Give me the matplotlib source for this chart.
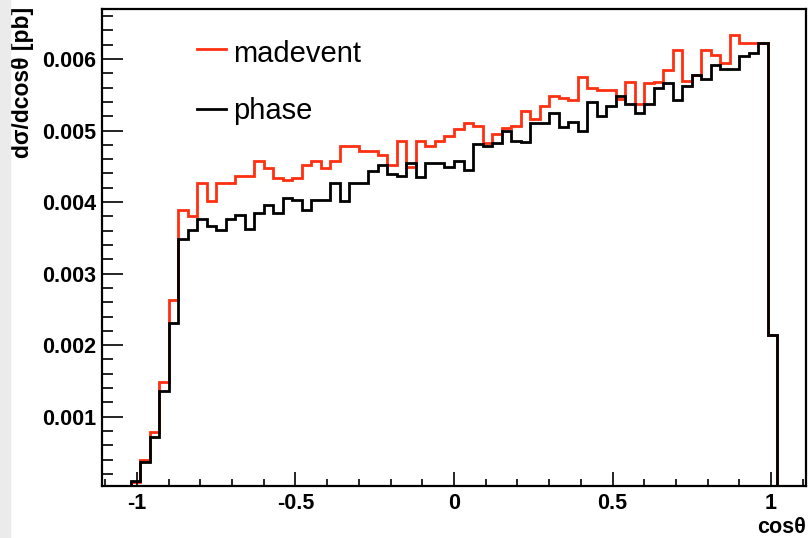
"""
cos(theta) distribution: madevent vs phase, ROOT-style step histograms.
"""
import numpy as np
import matplotlib
matplotlib.use("Agg")
import matplotlib.pyplot as plt
from matplotlib.patches import Rectangle
from matplotlib.ticker import MultipleLocator, FixedLocator

# 74 bins of width 0.03 on [-1.11, 1.11]
bin_lo, bin_hi, n_bins = -1.11, 1.11, 74

madevent = [
    0, 0, 0, 0.00008, 0.00039, 0.00078, 0.00149, 0.00263, 0.00389, 0.00380,
    0.00427, 0.00401, 0.00427, 0.00427, 0.00437, 0.00437, 0.00458, 0.00447, 0.00433, 0.00431,
    0.00433, 0.00452, 0.00458, 0.00447, 0.00458, 0.00479, 0.00478, 0.00471, 0.00471, 0.00466,
    0.00452, 0.00485, 0.00449, 0.00485, 0.00479, 0.00486, 0.00492, 0.00502, 0.00510, 0.00506,
    0.00483, 0.00495, 0.00504, 0.00506, 0.00527, 0.00516, 0.00534, 0.00548, 0.00545, 0.00543,
    0.00575, 0.00559, 0.00557, 0.00557, 0.00544, 0.00568, 0.00537, 0.00566, 0.00568, 0.00585,
    0.00613, 0.00570, 0.00578, 0.00613, 0.00606, 0.00594, 0.00633, 0.00622, 0.00622, 0.00622,
    0.00214, 0, 0, 0,
]
phase = [
    0, 0, 0, 0.00010, 0.00036, 0.00071, 0.00136, 0.00231, 0.00349, 0.00361,
    0.00377, 0.00367, 0.00361, 0.00377, 0.00382, 0.00362, 0.00385, 0.00396, 0.00385, 0.00406,
    0.00403, 0.00389, 0.00403, 0.00403, 0.00427, 0.00402, 0.00427, 0.00427, 0.00444, 0.00452,
    0.00439, 0.00437, 0.00455, 0.00435, 0.00455, 0.00455, 0.00449, 0.00458, 0.00445, 0.00481,
    0.00479, 0.00483, 0.00499, 0.00485, 0.00484, 0.00510, 0.00510, 0.00524, 0.00505, 0.00512,
    0.00500, 0.00540, 0.00520, 0.00535, 0.00549, 0.00537, 0.00524, 0.00537, 0.00559, 0.00567,
    0.00543, 0.00563, 0.00578, 0.00572, 0.00592, 0.00586, 0.00586, 0.00604, 0.00608, 0.00622,
    0.00214, 0, 0, 0,
]

x_ticks = [-1, -0.5, 0, 0.5, 1]
x_ticklabels = ["-1", "-0.5", "0", "0.5", "1"]
y_ticks = [0.001, 0.002, 0.003, 0.004, 0.005, 0.006]
y_ticklabels = ["0.001", "0.002", "0.003", "0.004", "0.005", "0.006"]

RED = "#ff3010"
plt.rcParams["font.family"] = ["Liberation Sans", "DejaVu Sans"]

edges = np.linspace(bin_lo, bin_hi, n_bins + 1)

fig = plt.figure(figsize=(8.08, 5.38), dpi=100)
fig.patches.append(Rectangle((0, 0), 10 / 808, 1, transform=fig.transFigure,
                             color="#ebebeb", zorder=0))
ax = fig.add_axes([102 / 808, 1 - 486 / 538, 704 / 808, 477 / 538])

ax.stairs(madevent, edges, color=RED, lw=2)
ax.stairs(phase, edges, color="black", lw=2)

ax.set_xlim(bin_lo, bin_hi)
ax.set_ylim(0.00003, 0.0067)

ax.xaxis.set_major_locator(FixedLocator(x_ticks))
ax.set_xticklabels(x_ticklabels)
ax.xaxis.set_minor_locator(MultipleLocator(0.1))
ax.yaxis.set_major_locator(FixedLocator(y_ticks))
ax.set_yticklabels(y_ticklabels)
ax.yaxis.set_minor_locator(MultipleLocator(0.0002))

ax.tick_params(which="both", direction="in", top=False, right=False,
               labelsize=15.5, width=1.2)
ax.tick_params(axis="x", which="major", length=10, pad=5)
ax.tick_params(axis="x", which="minor", length=5)
ax.tick_params(axis="y", which="major", length=15, pad=4)
ax.tick_params(axis="y", which="minor", length=8)
for lab in ax.get_xticklabels() + ax.get_yticklabels():
    lab.set_fontweight("bold")
for sp in ax.spines.values():
    sp.set_linewidth(1.6)

ax.set_xlabel("cos\u03b8", fontsize=15.5, fontweight="bold", loc="right")
ax.xaxis.set_label_coords(1.0, -0.066)
ax.set_ylabel("d\u03c3/dcos\u03b8 [pb]", fontsize=16.5, fontweight="bold", loc="top")
ax.yaxis.set_label_coords(-0.097, 1.005)

# hand-placed legend, ROOT TLegend look
for label, color, y_line, y_text in [("madevent", RED, 0.9155, 0.889),
                                      ("phase", "black", 0.791, 0.769)]:
    ax.plot([0.135, 0.176], [y_line, y_line], color=color, lw=2,
            transform=ax.transAxes)
    ax.text(0.186, y_text, label, fontsize=21, va="baseline",
            transform=ax.transAxes)

fig.savefig("out.png", dpi=100)
